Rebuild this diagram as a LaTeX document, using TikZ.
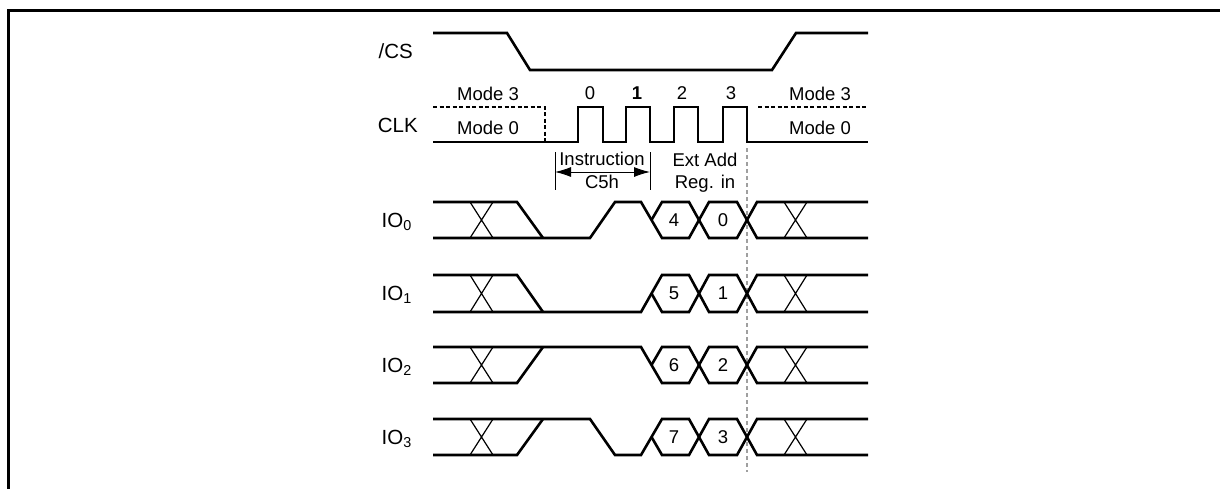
\documentclass[tikz,border=0pt]{standalone}
\usepackage{fontspec}
\setmainfont{Liberation Sans}
\usetikzlibrary{arrows.meta}
\begin{document}
\begin{tikzpicture}[x=1pt,y=-1pt,
  sig/.style={line width=2.6pt, line join=miter, line cap=butt},
  thinx/.style={line width=1.2pt},
  dsig/.style={line width=2.4pt, dash pattern=on 4pt off 2.5pt},
  lbl/.style={font=\fontsize{20.5}{22}\selectfont, anchor=base east, inner sep=0pt},
  txt/.style={font=\fontsize{18.5}{20}\selectfont, anchor=base, inner sep=0pt},
  guide/.style={line width=1.2pt, gray!75, dash pattern=on 4pt off 3pt},
]
\useasboundingbox (0,0) rectangle (1220,488);
\draw[line width=3pt] (8,500) -- (8,10) -- (1230,10);

% /CS
\node[lbl] (cs) at (413,58) {/CS};
\draw[sig] (433,33) -- (507,33) -- (530,70) -- (772,70) -- (796,33) -- (868,33);

% CLK
\node[lbl] (clk) at (418,132) {CLK};
\draw[sig] (433,142) -- (578,142) -- (578,107) -- (603,107) -- (603,142) -- (626,142) -- (626,107) -- (650,107) -- (650,142)
  -- (674,142) -- (674,107) -- (698,107) -- (698,142) -- (723,142) -- (723,107) -- (747,107) -- (747,142) -- (868,142);
\draw[dsig] (433,107) -- (545,107) -- (545,142);
\draw[dsig] (758,107) -- (868,107);
\node[txt] (m3l) at (488,100) {Mode 3};
\node[txt] (m0l) at (488,134) {Mode 0};
\node[txt] (m3r) at (820,100) {Mode 3};
\node[txt] (m0r) at (820,134) {Mode 0};
\node[txt] (n0) at (590,99) {0};
\node[txt,font=\fontsize{18.5}{20}\selectfont\bfseries] (n1) at (637,99) {1};
\node[txt] (n2) at (682,99) {2};
\node[txt] (n3) at (731,99) {3};

% Instruction annotation
\coordinate (tl1) at (555,152); \coordinate (tl2) at (555,190);
\coordinate (tr1) at (650,152); \coordinate (tr2) at (650,190);
\draw[line width=0.9pt] (tl1) -- (tl2);
\draw[line width=0.9pt] (tr1) -- (tr2);
\coordinate (al) at (555,172); \coordinate (ar) at (650,172);
\draw[line width=0.9pt, {Latex[length=16pt,width=10pt]}-{Latex[length=16pt,width=10pt]}] (al) -- (ar);
\node[txt] (ins) at (602,165) {Instruction};
\node[txt] (c5h) at (602,188) {C5h};
\node[txt] (ext) at (705,166) {Ext Add};
\node[txt] (reg) at (705,188) {Reg. in};

% guide line
\coordinate (g1) at (747,148); \coordinate (g2) at (747,472);
\draw[guide] (g1) -- (g2);

% common parts of an IO row: #1 high y, #2 low y, #3 mid y
\newcommand{\iocommon}[3]{%
  \draw[thinx] (470,#1) -- (493,#2) (470,#2) -- (493,#1);
  \draw[thinx] (784,#1) -- (807,#2) (784,#2) -- (807,#1);
}

% IO0
\node[lbl] (io0) at (412,227) {IO\textsubscript{0}};
\iocommon{202}{238}{220}
\draw[sig] (433,202) -- (517,202) -- (543,238);
\draw[sig] (433,238) -- (590,238) -- (615,202) -- (641,202) -- (662,238) -- (689,238) -- (709,202) -- (737,202) -- (757,238) -- (868,238);
\draw[sig] (651.5,220) -- (662,202) -- (689,202) -- (709,238) -- (737,238) -- (757,202) -- (868,202);
\node[txt] (h4) at (674,226) {4};
\node[txt] (h0) at (723,226) {0};

% IO1
\node[lbl] (io1) at (412,300) {IO\textsubscript{1}};
\iocommon{275}{312}{293.5}
\draw[sig] (433,275) -- (517,275) -- (543,312);
\draw[sig] (433,312) -- (641,312) -- (662,275) -- (689,275) -- (709,312) -- (737,312) -- (757,275) -- (868,275);
\draw[sig] (651.5,293.5) -- (662,312) -- (689,312) -- (709,275) -- (737,275) -- (757,312) -- (868,312);
\node[txt] (h5) at (674,299.5) {5};
\node[txt] (h1) at (723,299.5) {1};

% IO2
\node[lbl] (io2) at (412,372) {IO\textsubscript{2}};
\iocommon{347}{383}{365}
\draw[sig] (433,383) -- (517,383) -- (543,347);
\draw[sig] (433,347) -- (641,347) -- (662,383) -- (689,383) -- (709,347) -- (737,347) -- (757,383) -- (868,383);
\draw[sig] (651.5,365) -- (662,347) -- (689,347) -- (709,383) -- (737,383) -- (757,347) -- (868,347);
\node[txt] (h6) at (674,371) {6};
\node[txt] (h2) at (723,371) {2};

% IO3
\node[lbl] (io3) at (412,444) {IO\textsubscript{3}};
\iocommon{419}{455}{437}
\draw[sig] (433,455) -- (517,455) -- (543,419);
\draw[sig] (433,419) -- (590,419) -- (615,455) -- (641,455) -- (662,419) -- (689,419) -- (709,455) -- (737,455) -- (757,419) -- (868,419);
\draw[sig] (651.5,437) -- (662,455) -- (689,455) -- (709,419) -- (737,419) -- (757,455) -- (868,455);
\node[txt] (h7) at (674,443) {7};
\node[txt] (h3) at (723,443) {3};
\end{tikzpicture}
\end{document}
